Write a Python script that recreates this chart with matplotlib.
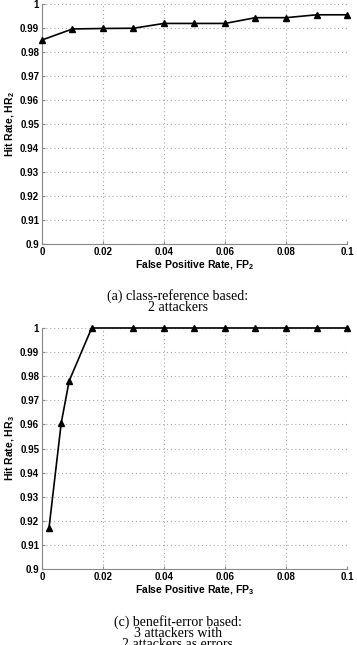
import numpy as np
import matplotlib
matplotlib.use("Agg")
import matplotlib.pyplot as plt
from matplotlib.ticker import FuncFormatter

# (a) class-reference based, 2 attackers
fp_a = [0.0, 0.01, 0.02, 0.03, 0.04, 0.05, 0.06, 0.07, 0.08, 0.09, 0.1]
hr_a = [0.9850, 0.9896, 0.9898, 0.9899, 0.9919, 0.9919, 0.9919, 0.9943, 0.9943, 0.9955, 0.9955]

# (c) benefit-error based, 3 attackers with 2 attackers as errors
fp_c = [0.0023, 0.0063, 0.0089, 0.0163, 0.03, 0.04, 0.05, 0.06, 0.07, 0.08, 0.09, 0.1]
hr_c = [0.917, 0.9605, 0.978, 1.0, 1.0, 1.0, 1.0, 1.0, 1.0, 1.0, 1.0, 1.0]

xticks = [0, 0.02, 0.04, 0.06, 0.08, 0.1]
yticks = [0.9, 0.91, 0.92, 0.93, 0.94, 0.95, 0.96, 0.97, 0.98, 0.99, 1.0]

plt.rcParams['font.family'] = ['Liberation Sans', 'DejaVu Sans']
plt.rcParams['mathtext.fontset'] = 'custom'
plt.rcParams['mathtext.rm'] = 'Liberation Sans'
plt.rcParams['mathtext.bf'] = 'Liberation Sans:bold'

fig = plt.figure(figsize=(3.57, 6.45), dpi=100)

fmt = FuncFormatter(lambda v, p: "%g" % round(v, 4))


def panel(rect, x, y, xlabel, ylabel):
    ax = fig.add_axes(rect)
    ax.plot(x, y, 'k-', linewidth=1.2, marker='^', markersize=4, clip_on=False, zorder=5)
    ax.set_xlim(0, 0.1)
    ax.set_ylim(0.9, 1.0)
    ax.set_xticks(xticks)
    ax.set_yticks(yticks)
    ax.xaxis.set_major_formatter(fmt)
    ax.yaxis.set_major_formatter(fmt)
    ax.grid(True, linestyle=(0, (1, 2.5)), color='#a8a8a8', linewidth=0.8)
    ax.spines['top'].set_visible(False)
    ax.spines['right'].set_visible(False)
    ax.spines['left'].set_color('#888888')
    ax.spines['bottom'].set_color('#888888')
    ax.tick_params(direction='in', length=2.5, color='#888888', pad=2,
                   labelsize=7)
    for lab in ax.get_xticklabels() + ax.get_yticklabels():
        lab.set_fontweight('bold')
    ax.set_xlabel(xlabel, fontsize=7.5, fontweight='bold', labelpad=1)
    ax.set_ylabel(ylabel, fontsize=7.5, fontweight='bold', labelpad=2)
    return ax


panel([0.1176, 0.6217, 0.8544, 0.3721], fp_a, hr_a,
      r'False Positive Rate, FP$_\mathbf{2}$', r'Hit Rate, HR$_\mathbf{2}$')
panel([0.1176, 0.1178, 0.8544, 0.3737], fp_c, hr_c,
      r'False Positive Rate, FP$_\mathbf{3}$', r'Hit Rate, HR$_\mathbf{3}$')

fig.text(0.498, 1 - 302 / 645, "(a) class-reference based:\n2 attackers",
         ha='center', va='center', family='Liberation Serif', fontsize=10,
         linespacing=0.8)
fig.text(0.498, 1 - 633 / 645, "(c) benefit-error based:\n3 attackers with\n2 attackers as errors",
         ha='center', va='center', family='Liberation Serif', fontsize=10,
         linespacing=0.8)

plt.savefig("out.png", dpi=100)
